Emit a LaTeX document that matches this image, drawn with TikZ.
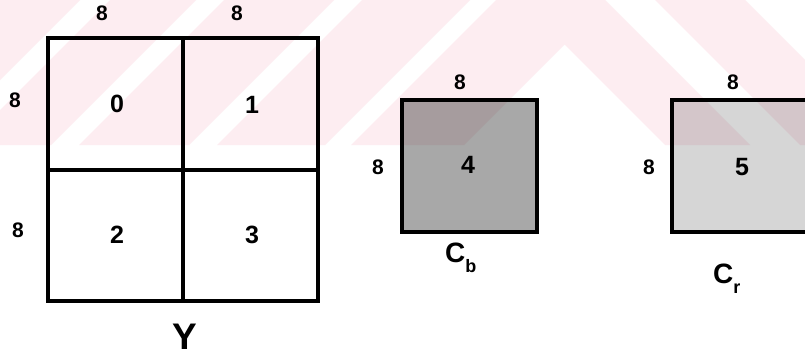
\documentclass[tikz,border=0pt]{standalone}
\usepackage{fontspec}
\setmainfont{Liberation Sans}
\usetikzlibrary{calc}
\definecolor{wmpink}{RGB}{253,237,241}
\definecolor{cbgray}{RGB}{168,168,168}
\definecolor{crgray}{RGB}{214,214,214}
\tikzset{
  blk/.style={draw=black,line width=3.8pt},
  dimlbl/.style={font=\fontsize{21}{23}\selectfont\bfseries,inner sep=0pt},
  numlbl/.style={font=\fontsize{25}{27}\selectfont\bfseries,inner sep=0pt},
  namelbl/.style={font=\fontsize{28}{30}\selectfont\bfseries,inner sep=0pt},
}
\newcommand{\subtxt}[1]{\raisebox{-0.38em}{\fontsize{18}{18}\selectfont #1}}
\begin{document}
\begin{tikzpicture}[x=1pt,y=-1pt]
\clip (0,0) rectangle (805,357);
\fill[white] (0,0) rectangle (805,357);
% ---- Y block ----
\draw[blk] (48,38) rectangle (318,301);
\draw[blk] (183,38) -- (183,301);
\draw[blk] (48,170) -- (318,170);
\node[dimlbl] (yw1) at (102,13) {8};
\node[dimlbl] (yw2) at (237,13) {8};
\node[dimlbl] (yh1) at (15,100) {8};
\node[dimlbl] (yh2) at (18,230) {8};
\node[numlbl] (b0) at (117,104) {0};
\node[numlbl] (b1) at (252,105) {1};
\node[numlbl] (b2) at (117,235) {2};
\node[numlbl] (b3) at (252,235) {3};
\node[font=\fontsize{37}{40}\selectfont\bfseries,inner sep=0pt] (ylab) at (185,337) {Y};
% ---- Cb block ----
\draw[blk,fill=cbgray] (402,100) rectangle (537,232);
\node[dimlbl] (cbw) at (460,82) {8};
\node[dimlbl] (cbh) at (378,167) {8};
\node[numlbl] (b4) at (468,165) {4};
\node[namelbl,anchor=base west] (cblab) at (445,262) {C\subtxt{b}};
% ---- Cr block ----
\draw[blk,fill=crgray] (672,100) rectangle (830,232);
\node[dimlbl] (crw) at (733,82) {8};
\node[dimlbl] (crh) at (649,167) {8};
\node[numlbl] (b5) at (742,167) {5};
\node[namelbl,anchor=base west] (crlab) at (713,283) {C\subtxt{r}};
% ---- watermark ----
\begin{scope}[blend mode=multiply]
\clip (0,0) rectangle (805,145);
\fill[wmpink] (-300,0) -- (80,0) -- (-65,145) -- (-445,145) -- cycle;
\fill[wmpink] (110,0) -- (196,0) -- (51,145) -- (-35,145) -- cycle;
\fill[wmpink] (224,0) -- (334,0) -- (189,145) -- (79,145) -- cycle;
\fill[wmpink] (362,0) -- (470,0) -- (325,145) -- (217,145) -- cycle;
\fill[wmpink] (351,145) -- (550.5,-54.5) -- (750,145) -- (665,145)
   -- (564.5,44.5) -- (464,145) -- cycle;
\fill[wmpink] (655,0) -- (745,0) -- (890,145) -- (800,145) -- cycle;
\end{scope}
\end{tikzpicture}
\end{document}
